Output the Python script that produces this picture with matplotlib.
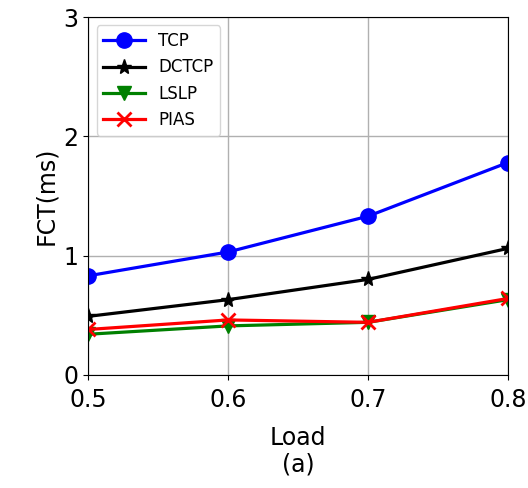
import matplotlib
matplotlib.use('Agg')
import matplotlib.pyplot as plt

# 数据
load = [0.5, 0.6, 0.7, 0.8]
tcp = [0.83, 1.03, 1.33, 1.78]
dctcp = [0.49, 0.63, 0.80, 1.06]
lslp = [0.34, 0.41, 0.44, 0.63]
pias = [0.38, 0.46, 0.44, 0.64]

plt.rcParams['font.family'] = 'DejaVu Sans'
plt.rcParams['font.size'] = 17

fig, ax = plt.subplots(figsize=(5.28, 4.88), dpi=100)
ax.plot(load, tcp, 'b-o', lw=2.3, ms=11, label='TCP')
ax.plot(load, dctcp, 'k-*', lw=2.3, ms=11, label='DCTCP')
ax.plot(load, lslp, 'g-v', lw=2.3, ms=10, label='LSLP')
ax.plot(load, pias, 'r-x', lw=2.3, ms=10, mew=2, label='PIAS')

ax.set_xlim(0.5, 0.8)
ax.set_ylim(0, 3)
ax.set_xticks([0.5, 0.6, 0.7, 0.8])
ax.set_yticks([0, 1, 2, 3])
ax.tick_params(axis='x', pad=6)
ax.grid(True, color='#b0b0b0', lw=1)
ax.set_xlabel('Load\n(a)', linespacing=1.15, labelpad=10)
ax.set_ylabel('FCT(ms)')
ax.legend(loc='upper left', fontsize=12, handlelength=2.5)

plt.subplots_adjust(left=0.167, right=0.962, top=0.965, bottom=0.232)
plt.savefig('out.png')
